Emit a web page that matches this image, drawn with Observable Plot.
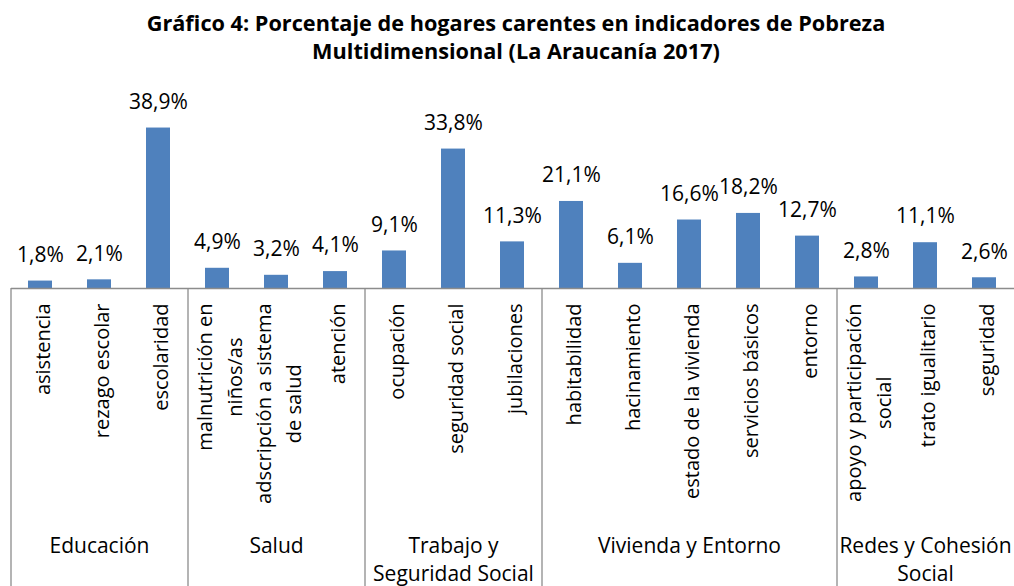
<!DOCTYPE html>
<html><head><meta charset="utf-8">
<script src="https://cdn.jsdelivr.net/npm/d3@7"></script>
<script src="https://cdn.jsdelivr.net/npm/@observablehq/plot@0.6"></script>
<style>
body{margin:0;background:#fff;font-family:"Open Sans",sans-serif;}
#title{height:70px;box-sizing:border-box;padding-top:9px;padding-left:18px;text-align:center;font-weight:bold;font-size:21.7px;line-height:28px;color:#000;}
#chart svg{display:block;}
</style></head><body>
<div id="title">Gráfico 4: Porcentaje de hogares carentes en indicadores de Pobreza<br>Multidimensional (La Araucanía 2017)</div>
<div id="chart"></div>
<script>
const categories = ["asistencia","rezago escolar","escolaridad","malnutrición en\nniños/as","adscripción a sistema\nde salud","atención","ocupación","seguridad social","jubilaciones","habitabilidad","hacinamiento","estado de la vivienda","servicios básicos","entorno","apoyo y participación\nsocial","trato igualitario","seguridad"];
const values = [1.8,2.1,38.9,4.9,3.2,4.1,9.1,33.8,11.3,21.1,6.1,16.6,18.2,12.7,2.8,11.1,2.6];
const groupOf = ["Educación","Educación","Educación","Salud","Salud","Salud","Trabajo y\nSeguridad Social","Trabajo y\nSeguridad Social","Trabajo y\nSeguridad Social","Vivienda y Entorno","Vivienda y Entorno","Vivienda y Entorno","Vivienda y Entorno","Vivienda y Entorno","Redes y Cohesión\nSocial","Redes y Cohesión\nSocial","Redes y Cohesión\nSocial"];
const groupNames = ["Educación","Salud","Trabajo y\nSeguridad Social","Vivienda y Entorno","Redes y Cohesión\nSocial"];

const data = categories.map((c, i) => ({cat: c, value: values[i], group: groupOf[i]}));
const width = 1014, height = 516, marginLeft = 11, marginRight = 0, marginTop = 53, marginBottom = 298;
const step = (width - marginLeft - marginRight) / categories.length;
const frameH = height - marginTop - marginBottom;
const labelSize = 20, valueSize = 21, groupSize = 21;
const font = '"Open Sans", sans-serif';
const ctx = document.createElement("canvas").getContext("2d");
ctx.font = `${labelSize}px "Open Sans"`;
const maxLineW = t => Math.max(...t.split("\n").map(s => ctx.measureText(s).width));

const groupStarts = groupNames.map(g => data.find(d => d.group === g).cat);
const groupMids = groupNames.map(g => {
  const members = data.filter(d => d.group === g);
  return {cat: members[Math.floor(members.length / 2)].cat, name: g};
});

const labelMarks = data.map(d => Plot.text([d], {
  x: "cat", text: "cat", frameAnchor: "bottom", rotate: -90, textAnchor: "middle",
  lineAnchor: "middle", dy: 15 + maxLineW(d.cat) / 2, fontSize: labelSize, lineHeight: 1.5, fill: "#000"
}));

const chart = Plot.plot({
  width, height, marginLeft, marginRight, marginTop, marginBottom,
  style: {fontFamily: font, background: "#fff", overflow: "visible"},
  x: {domain: categories, paddingInner: 0.59, paddingOuter: 0.295, axis: null},
  y: {domain: [0, 40], axis: null},
  marks: [
    Plot.barY(data, {x: "cat", y: "value", fill: "#4F81BD"}),
    Plot.text(data, {x: "cat", y: "value", text: d => d.value.toFixed(1).replace(".", ",") + "%", dy: -26, lineAnchor: "middle", fontSize: valueSize, fill: "#000"}),
    Plot.ruleY([0], {stroke: "#8c8c8c", strokeWidth: 1.3}),
    Plot.ruleX(groupStarts, {x: d => d, dx: -step / 2, insetTop: frameH, insetBottom: -marginBottom, stroke: "#8c8c8c", strokeWidth: 1.3}),
    ...labelMarks,
    Plot.text(groupMids, {x: "cat", text: "name", frameAnchor: "bottom", lineAnchor: "top", dy: 245, fontSize: groupSize, lineHeight: 1.33, fill: "#000"})
  ]
});
document.getElementById("chart").append(chart);
</script>
</body></html>
